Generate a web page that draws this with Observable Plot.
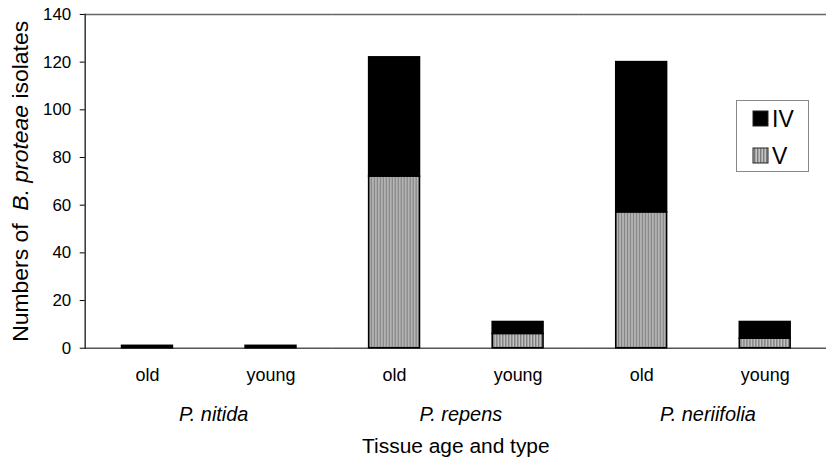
<!DOCTYPE html>
<html><head><meta charset="utf-8">
<script src="https://cdn.jsdelivr.net/npm/d3@7"></script>
<script src="https://cdn.jsdelivr.net/npm/@observablehq/plot@0.6"></script>
<style>
body{margin:0;overflow:hidden;background:#fff;font-family:"Liberation Sans",Arial,sans-serif}
#wrap{position:relative;width:827px;height:461px;overflow:hidden}
#legend{position:absolute;left:736px;top:100px}
</style></head><body><div id="wrap"></div>
<script>
const speciesList = ["P. nitida", "P. repens", "P. neriifolia"];
const species = ["P. nitida", "P. nitida", "P. repens", "P. repens", "P. neriifolia", "P. neriifolia"];
const ages = ["old", "young", "old", "young", "old", "young"];
const typeV = [0, 0, 72, 6, 57, 4];
const typeIV = [1, 1, 50, 5, 63, 7];
const types = ["IV", "V"];
const yTicks = [0, 20, 40, 60, 80, 100, 120, 140];

const data = [];
species.forEach((s, i) => {
  data.push({species: s, age: ages[i], type: "V", value: typeV[i]});
  data.push({species: s, age: ages[i], type: "IV", value: typeIV[i]});
});

const plot = Plot.plot({
  width: 830, height: 461,
  marginLeft: 84, marginRight: 0, marginTop: 14, marginBottom: 112,
  style: {fontFamily: "'Liberation Sans', Arial, sans-serif", background: "white", color: "black"},
  fx: {domain: speciesList, padding: 0, label: null},
  x: {domain: ["old", "young"], paddingInner: 0.59, paddingOuter: 0.295, label: null},
  y: {domain: [0, 140], label: null},
  color: {domain: types, range: ["black", "url(#stripes)"]},
  marks: [
    Plot.ruleY([0], {stroke: "#555", strokeWidth: 1.5}),
    Plot.ruleY([140], {stroke: "#666", strokeWidth: 1.5}),
    Plot.frame({anchor: "left", facetAnchor: "left", stroke: "#333", strokeWidth: 1.5}),
    Plot.barY(data, {fx: "species", x: "age", y: "value", fill: "type", stroke: "black", strokeWidth: 1.6}),
    Plot.axisY({ticks: yTicks, tickSize: 5, tickPadding: 9, fontSize: 17, label: "Numbers of B. proteae isolates", labelAnchor: "center", labelOffset: 74}),
    Plot.axisX({tickSize: 0, tickPadding: 20, fontSize: 18, label: null}),
    Plot.axisFx({anchor: "bottom", tickSize: 0, tickPadding: 59, dx: 5, fontSize: 20, fontStyle: "italic", label: "Tissue age and type", labelAnchor: "center", labelOffset: 105})
  ]
});

// stripe pattern for type V
const svg = d3.select(plot);
const defs = svg.insert("defs", ":first-child");
const pat = defs.append("pattern").attr("id", "stripes").attr("patternUnits", "userSpaceOnUse")
  .attr("width", 3).attr("height", 10);
pat.append("rect").attr("width", 3).attr("height", 10).attr("fill", "#c4c4c4");
pat.append("rect").attr("width", 1.4).attr("height", 10).attr("fill", "#7a7a7a");

// y label with italic species name
const yl = svg.select('g[aria-label="y-axis label"] text');
yl.text(null).attr("font-size", 23).attr("font-style", "normal");
yl.append("tspan").text("Numbers of  ");
yl.append("tspan").attr("font-style", "italic").text("B. proteae");
yl.append("tspan").text(" isolates");

svg.select('g[aria-label="fx-axis label"] text').attr("font-style", "normal").attr("font-size", 21);

document.getElementById("wrap").appendChild(plot);

// legend
const lg = d3.select("#wrap").append("svg").attr("id", "legend").attr("width", 74).attr("height", 73);
lg.append("rect").attr("x", 0.5).attr("y", 0.5).attr("width", 72).attr("height", 71)
  .attr("fill", "white").attr("stroke", "#888");
types.forEach((t, i) => {
  const gy = 11 + i * 37;
  lg.append("rect").attr("x", 17).attr("y", gy).attr("width", 15).attr("height", 15)
    .attr("fill", t === "V" ? "url(#stripes)" : "black").attr("stroke", "#222").attr("stroke-width", 1);
  lg.append("text").attr("x", 36).attr("y", gy + 16).attr("font-size", 23)
    .attr("font-family", "'Liberation Sans', Arial, sans-serif").text(t);
});
</script></body></html>
